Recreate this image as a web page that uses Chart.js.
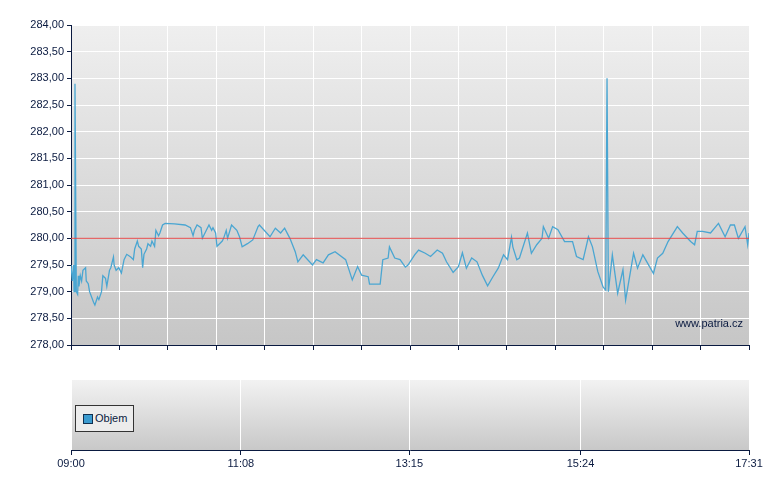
<!DOCTYPE html>
<html>
<head>
<meta charset="utf-8">
<script src="https://cdn.jsdelivr.net/npm/chart.js@4/dist/chart.umd.min.js"></script>
<style>
  body { margin: 0; background: #fff; width: 780px; height: 490px; position: relative; overflow: hidden; font-family: "Liberation Sans", Arial, sans-serif; }
  #wrapTop { position: absolute; left: 0; top: 0; width: 780px; height: 360px; }
  #wrapBot { position: absolute; left: 0; top: 370px; width: 780px; height: 120px; }
  #legend { position: absolute; left: 75px; top: 405px; width: 59px; height: 27px; border: 1px solid #333; background: #ececec; box-sizing: border-box; font-size: 11px; color: #0a1a40; }
  #legend span.sw { position: absolute; left: 7px; top: 8px; width: 8px; height: 8px; background: #3a9bd0; border: 1px solid #103050; }
  #legend span.tx { position: absolute; left: 19px; top: 6px; }
</style>
</head>
<body>
<div id="wrapTop"><canvas id="priceChart" width="780" height="360"></canvas></div>
<div id="wrapBot"><canvas id="volChart" width="780" height="120"></canvas></div>
<div id="legend"><span class="sw"></span><span class="tx">Objem</span></div>
<script>
// minutes since 09:00
const minutes = [0,1,2,2.3,3,4,5,5.5,6,7,8,9,11,11.5,13,14,17,18,20,21,23,24,26,27,29,30,32,32.5,34,36,38,40,42,45,47,48,50,51,53,54,55,57,58,60,61,63,64,66,67,69,71,78,86,90,92,93,95,98,99,102,104,106,107,109,110,112,114,115,117,118,121,125,127,129,133,137,141,142,150,154,158,161,165,169,171,175,182,185,190,194,199,207,212,216,219,224,225,233,235,239,240,244,248,252,254,259,262,267,271,276,280,283,288,292,295,298,302,306,310,314,318,322,326,329,332,333,336,338,344,347,351,355,356,360,363,367,372,378,381,386,390,393,397,401,403,404,405,408,412,416,418,424,427,431,439,442,446,450,457,461,467,470,472,476,482,488,493,497,500,503,508,510,511];
const prices = [279.5,279.2,279.5,279.0,282.9,279.0,278.95,279.3,279.1,279.3,279.2,279.4,279.45,279.2,279.15,279.0,278.8,278.75,278.9,278.85,279.0,279.3,279.25,279.1,279.4,279.45,279.65,279.5,279.4,279.45,279.35,279.6,279.7,279.65,279.6,279.8,279.95,279.85,279.8,279.45,279.7,279.8,279.9,279.85,279.95,279.85,280.15,280.05,280.1,280.25,280.28,280.27,280.25,280.2,280.05,280.15,280.25,280.2,280.0,280.15,280.25,280.15,280.2,280.1,279.85,279.9,279.95,280.0,280.15,280.0,280.25,280.15,280.03,279.84,279.9,279.97,280.22,280.25,280.03,280.19,280.1,280.19,280.0,279.75,279.56,279.69,279.5,279.6,279.54,279.69,279.75,279.6,279.22,279.47,279.31,279.28,279.14,279.14,279.6,279.63,279.84,279.63,279.6,279.46,279.5,279.69,279.78,279.72,279.66,279.78,279.72,279.56,279.36,279.47,279.73,279.44,279.63,279.56,279.31,279.11,279.28,279.44,279.69,279.6,280.02,279.84,279.6,279.63,280.1,279.72,279.88,280.0,280.22,280.0,280.22,280.16,279.94,279.94,279.66,279.6,280.03,279.84,279.38,279.09,279.03,283.0,279.0,279.69,278.97,279.41,278.84,279.72,279.44,279.69,279.34,279.63,279.72,279.94,280.22,280.1,279.94,279.88,280.13,280.13,280.1,280.28,280.03,280.25,280.25,280.0,280.22,279.88,280.1];
const refPrice = 280.0;
const priceTicks = [278,278.5,279,279.5,280,280.5,281,281.5,282,282.5,283,283.5,284];
const timeTicks = [0,128,255,384,511];
const timeLabels = ["09:00","11:08","13:15","15:24","17:31"];

const navy = '#0a1a40';
Chart.defaults.font.family = '"Liberation Sans", Arial, sans-serif';
Chart.defaults.font.size = 11;
Chart.defaults.color = navy;

const bgPlugin = {
    id: 'bg',
    beforeDraw(chart) {
        const a = chart.chartArea, ctx = chart.ctx;
        const g = ctx.createLinearGradient(0, a.top, 0, a.bottom);
        g.addColorStop(0, chart.options.plugins.bg.from);
        g.addColorStop(1, chart.options.plugins.bg.to);
        ctx.save();
        ctx.fillStyle = g;
        ctx.fillRect(a.left, a.top, a.right - a.left, a.bottom - a.top);
        ctx.restore();
    },
    afterDraw(chart) {
        const txt = chart.options.plugins.bg.mark;
        if (!txt) return;
        const a = chart.chartArea, ctx = chart.ctx;
        ctx.save();
        ctx.fillStyle = navy;
        ctx.font = '11px "Liberation Sans", Arial, sans-serif';
        ctx.textAlign = 'right';
        ctx.fillText(txt, a.right - 6, a.bottom - 18);
        ctx.restore();
    }
};

new Chart(document.getElementById('priceChart'), {
    type: 'line',
    data: {
        datasets: [
            {
                data: [{x: 0, y: refPrice}, {x: 511, y: refPrice}],
                borderColor: '#e04848', borderWidth: 1, pointRadius: 0
            },
            {
                data: minutes.map((m, i) => ({x: m, y: prices[i]})),
                borderColor: '#4aa6d2', borderWidth: 1.3, pointRadius: 0, tension: 0
            }
        ]
    },
    options: {
        responsive: false, animation: false,
        layout: { padding: { top: 25, right: 31, left: 0, bottom: 0 } },
        plugins: { legend: { display: false }, tooltip: { enabled: false },
                   bg: { from: '#efefef', to: '#c6c6c6', mark: 'www.patria.cz' } },
        scales: {
            x: {
                type: 'linear', min: 0, max: 511,
                afterBuildTicks: s => { s.ticks = Array.from({length: 15}, (_, i) => ({value: i * 511 / 14})); },
                afterFit: s => { s.height = 15; },
                ticks: { display: false },
                grid: { color: '#ffffff', lineWidth: 1, tickColor: navy, tickLength: 5 },
                border: { color: navy, width: 1 }
            },
            y: {
                min: 278, max: 284,
                afterBuildTicks: s => { s.ticks = priceTicks.map(v => ({value: v})); },
                afterFit: s => { s.width = 71; },
                ticks: { padding: 3, callback: v => v.toFixed(2).replace('.', ','), color: navy },
                grid: { color: '#ffffff', lineWidth: 1, tickColor: navy, tickLength: 4 },
                border: { color: navy, width: 1 }
            }
        }
    },
    plugins: [bgPlugin]
});

new Chart(document.getElementById('volChart'), {
    type: 'line',
    data: { datasets: [{ label: 'Objem', data: [] }] },
    options: {
        responsive: false, animation: false,
        layout: { padding: { top: 10, right: 31, left: 0, bottom: 0 } },
        plugins: { legend: { display: false }, tooltip: { enabled: false },
                   bg: { from: '#f2f2f2', to: '#c8c8c8' } },
        scales: {
            x: {
                type: 'linear', min: 0, max: 511,
                afterBuildTicks: s => { s.ticks = timeTicks.map(v => ({value: v})); },
                afterFit: s => { s.height = 40; },
                ticks: { padding: 2, color: navy, callback: v => timeLabels[timeTicks.indexOf(v)] },
                grid: { color: '#ffffff', lineWidth: 1, tickColor: navy, tickLength: 5 },
                border: { color: navy, width: 1 }
            },
            y: {
                min: 0, max: 1,
                afterFit: s => { s.width = 71; },
                ticks: { display: false },
                grid: { display: false },
                border: { display: false }
            }
        }
    },
    plugins: [bgPlugin]
});
</script>
</body>
</html>
